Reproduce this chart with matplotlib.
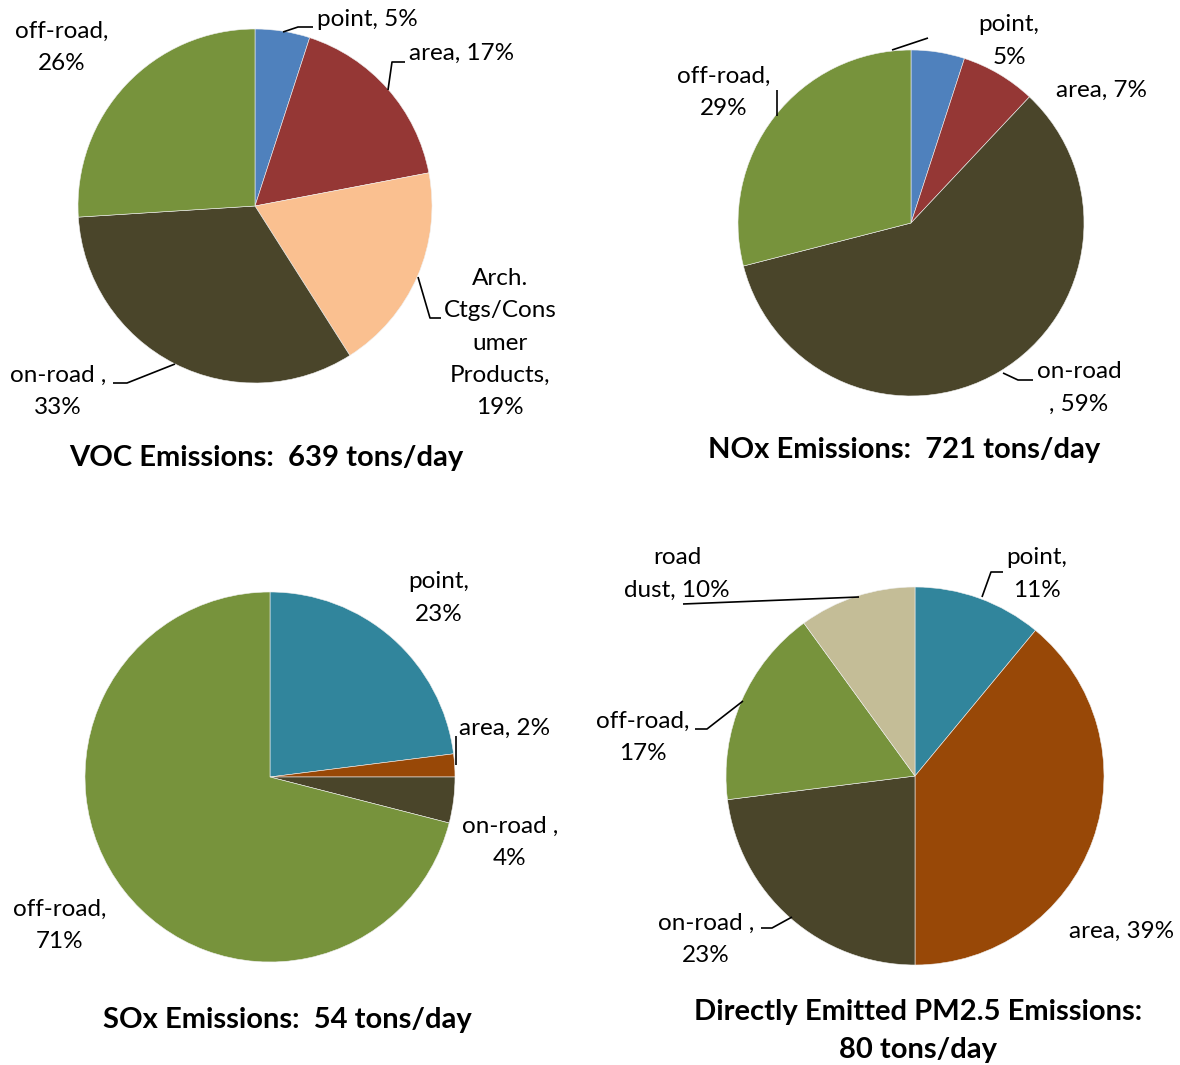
import matplotlib
matplotlib.use('Agg')
import matplotlib.pyplot as plt

W, H = 1180, 1065
plt.rcParams['font.family'] = ['Lato', 'DejaVu Sans']

# ---------------- data ----------------
voc_categories = ['point', 'area', 'Arch. Ctgs/Consumer Products', 'on-road', 'off-road']
voc_values = [5, 17, 19, 33, 26]
voc_labels = ['point, 5%', 'area, 17%', 'Arch.\nCtgs/Cons\numer\nProducts,\n19%',
              'on-road ,\n33%', 'off-road,\n26%']
voc_title = 'VOC Emissions:  639 tons/day'

nox_categories = ['point', 'area', 'on-road', 'off-road']
nox_values = [5, 7, 59, 29]
nox_labels = ['point,\n5%', 'area, 7%', 'on-road\n, 59%', 'off-road,\n29%']
nox_title = 'NOx Emissions:  721 tons/day'

sox_categories = ['point', 'area', 'on-road', 'off-road']
sox_values = [23, 2, 4, 71]
sox_labels = ['point,\n23%', 'area, 2%', 'on-road ,\n4%', 'off-road,\n71%']
sox_title = 'SOx Emissions:  54 tons/day'

pm_categories = ['point', 'area', 'on-road', 'off-road', 'road dust']
pm_values = [11, 39, 23, 17, 10]
pm_labels = ['point,\n11%', 'area, 39%', 'on-road ,\n23%', 'off-road,\n17%', 'road\ndust, 10%']
pm_title = 'Directly Emitted PM2.5 Emissions:\n80 tons/day'

# ---------------- styles / layout ----------------
BLUE, RED, PEACH, DARK, GREEN = '#4F81BD', '#953735', '#FAC090', '#4A452A', '#77933C'
TEAL, BROWN, TAN = '#31859C', '#984807', '#C4BD97'

charts = [
    dict(values=voc_values, labels=voc_labels, title=voc_title,
         colors=[BLUE, RED, PEACH, DARK, GREEN], center=(255, 206), r=177,
         label_pos=[(367, 20), (462, 53), (500, 343), (58, 391), (62, 47)],
         leaders=[[(283, 32), (298, 27), (313, 27)],
                  [(388, 90), (392, 62), (405, 62)],
                  [(418, 277), (430, 318), (441, 318)],
                  [(113, 383), (127, 383), (175, 364)]],
         title_pos=(266, 458)),
    dict(values=nox_values, labels=nox_labels, title=nox_title,
         colors=[BLUE, RED, DARK, GREEN], center=(911, 223), r=173,
         label_pos=[(1009, 41), (1102, 90), (1079, 388), (724, 92)],
         leaders=[[(892, 50), (928, 38)],
                  [(777, 90), (777, 116)],
                  [(1003, 373), (1018, 380), (1033, 380)]],
         title_pos=(904, 450)),
    dict(values=sox_values, labels=sox_labels, title=sox_title,
         colors=[TEAL, BROWN, DARK, GREEN], center=(270, 777), r=185,
         label_pos=[(439, 598), (505, 728), (510, 842), (60, 925)],
         leaders=[[(456, 736), (456, 765)]],
         title_pos=(287, 1020)),
    dict(values=pm_values, labels=pm_labels, title=pm_title,
         colors=[TEAL, BROWN, DARK, GREEN, TAN], center=(915, 776), r=189,
         label_pos=[(1037, 574), (1122, 931), (706, 939), (643, 737), (677, 574)],
         leaders=[[(982, 597), (991, 572), (1003, 572)],
                  [(859, 597), (683, 604)],
                  [(695, 729), (707, 729), (743, 701)],
                  [(761, 928), (772, 928), (792, 917)]],
         title_pos=(918, 1031)),
]

LABEL_FS = 17.5
TITLE_FS = 21

fig = plt.figure(figsize=(W / 100, H / 100), dpi=100)
ax = fig.add_axes([0, 0, 1, 1])


def Y(py):
    return H - py


for c in charts:
    cx, cy = c['center']
    ax.pie(c['values'], colors=c['colors'], startangle=90, counterclock=False,
           center=(cx, Y(cy)), radius=c['r'], frame=True,
           wedgeprops=dict(edgecolor='#f0f0f0', linewidth=0.4))
    for (px, py), lab in zip(c['label_pos'], c['labels']):
        ax.text(px, Y(py), lab, ha='center', va='center', fontsize=LABEL_FS,
                linespacing=1.66, color='black')
    for pts in c['leaders']:
        xs = [p[0] for p in pts]
        ys = [Y(p[1]) for p in pts]
        ax.plot(xs, ys, color='black', linewidth=1.2, solid_capstyle='butt')
    tx, ty = c['title_pos']
    ax.text(tx, Y(ty), c['title'], ha='center', va='center', fontsize=TITLE_FS,
            fontweight='bold', linespacing=1.56, color='black')

ax.set_xlim(0, W)
ax.set_ylim(0, H)
ax.set_aspect('auto')
ax.axis('off')

fig.savefig('out.png', dpi=100, facecolor='white')
